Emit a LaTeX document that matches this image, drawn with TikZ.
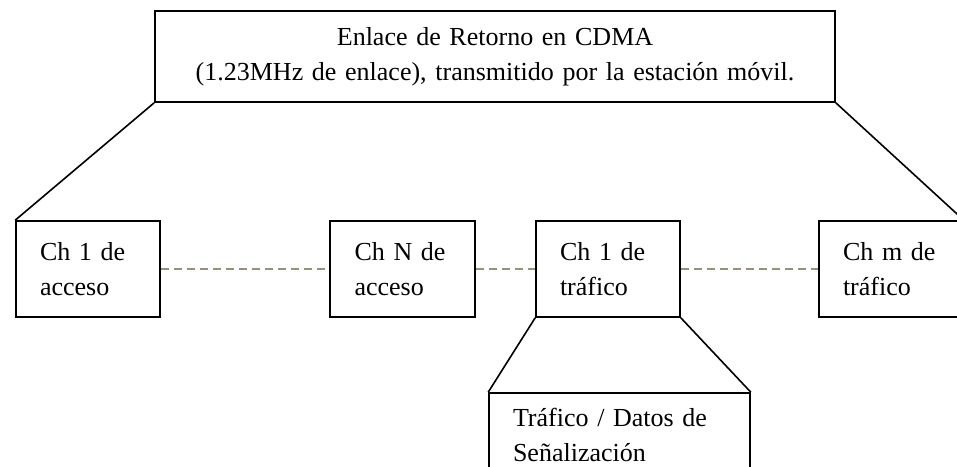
\documentclass[tikz,border=0pt]{standalone}
\usepackage{fontspec}
\setmainfont{Liberation Serif}
\usepackage{tikz}

\begin{document}
\begin{tikzpicture}[x=0.75pt,y=-0.75pt,
    every node/.style={font=\fontsize{19.5}{26}\selectfont},
    chbox/.style={draw,line width=1.2pt,minimum width=108pt,minimum height=72pt,
        inner xsep=18pt,text width=72pt,align=left},
    dotlink/.style={color={rgb,255:red,150; green,148; blue,112},line width=1pt,
        dash pattern=on 6pt off 3.75pt}]
    \useasboundingbox (0,0) rectangle (957,467);

    \node[draw,line width=1.2pt,minimum width=510pt,minimum height=68.25pt,
        text width=480pt,align=center] (ret) at (495,56.5)
        {Enlace de Retorno en CDMA\\(1.23MHz de enlace), transmitido por la estación móvil.};

    \node[chbox] (acc1) at (88,269) {Ch 1 de\\acceso};
    \node[chbox,minimum width=108.75pt] (accN) at (402.5,269) {Ch N de\\acceso};
    \node[chbox] (tra1) at (608,269) {Ch 1 de\\tráfico};
    \node[chbox] (tram) at (891,269) {Ch m de\\tráfico};
    \node[chbox,minimum width=195.75pt,minimum height=63pt,text width=159.75pt] (sen)
        at (619.5,435) {Tráfico / Datos de\\Señalización};

    \draw[line width=1.2pt] (ret.south west) -- (acc1.north west);
    \draw[line width=1.2pt] (ret.south east) -- (tram.north east);
    \draw[line width=1.2pt] (tra1.south west) -- (sen.north west);
    \draw[line width=1.2pt] (tra1.south east) -- (sen.north east);

    \draw[dotlink] (acc1.east) -- (accN.west);
    \draw[dotlink] (accN.east) -- (tra1.west);
    \draw[dotlink] (tra1.east) -- (tram.west);

\end{tikzpicture}
\end{document}
